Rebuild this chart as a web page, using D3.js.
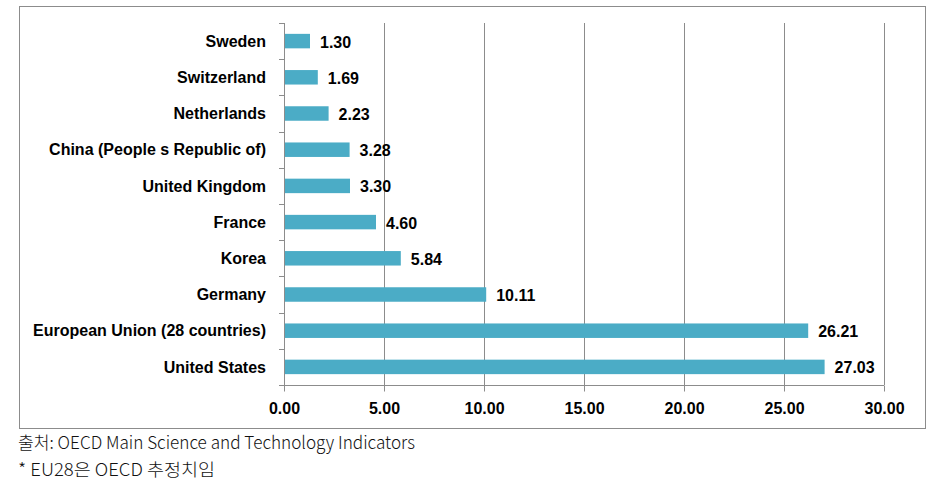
<!DOCTYPE html>
<html><head><meta charset="utf-8">
<script src="https://cdn.jsdelivr.net/npm/d3@7"></script>
<style>
body{margin:0;background:#fff;}
svg{display:block;}
</style></head>
<body>
<script>
const categories = ["Sweden","Switzerland","Netherlands","China (People s Republic of)","United Kingdom","France","Korea","Germany","European Union (28 countries)","United States"];
const values = [1.30,1.69,2.23,3.28,3.30,4.60,5.84,10.11,26.21,27.03];
const xTicks = [0,5,10,15,20,25,30];
const notes = ["출처: OECD Main Science and Technology Indicators","* EU28은 OECD 추정치임"];

const W=937,H=481;
const svg=d3.select("body").append("svg").attr("width",W).attr("height",H);
const pLeft=284,pRight=884,pTop=23,pBottom=385;
const x=d3.scaleLinear().domain([0,30]).range([pLeft,pRight]);
const y=d3.scaleBand().domain(categories).range([pTop,pBottom]).paddingInner(0.6).paddingOuter(0.3);
const yTick=d3.scaleBand().domain(categories).range([pTop,pBottom]);
const labelFont="'Liberation Sans',Arial,sans-serif";

// outer border
svg.append("rect").attr("x",19.5).attr("y",6.5).attr("width",906).attr("height",422)
  .attr("fill","#fff").attr("stroke","#8c8c8c").attr("stroke-width",1);

// gridlines
svg.append("g").selectAll("line").data(xTicks.slice(1)).join("line")
  .attr("x1",d=>Math.round(x(d))+0.5).attr("x2",d=>Math.round(x(d))+0.5)
  .attr("y1",pTop).attr("y2",pBottom)
  .attr("stroke","#8c8c8c").attr("stroke-width",1);

// x axis
const xAxis=d3.axisBottom(x).tickValues(xTicks).tickSize(6).tickFormat(d3.format(".2f"));
const gx=svg.append("g").attr("transform",`translate(0,${pBottom+0.5})`).call(xAxis);
gx.select(".domain").attr("stroke","#8c8c8c").attr("d",`M${pLeft},0H${pRight}`);
gx.selectAll(".tick line").attr("stroke","#8c8c8c");
gx.selectAll(".tick text").attr("dy",0).attr("y",28)
  .attr("font-family",labelFont).attr("font-weight","bold")
  .attr("font-size",16).attr("fill","#000");

// y axis line and ticks
svg.append("line").attr("x1",pLeft+0.5).attr("x2",pLeft+0.5).attr("y1",pTop).attr("y2",pBottom)
  .attr("stroke","#8c8c8c");
const tickYs=categories.map(c=>yTick(c)).concat([pBottom]);
svg.append("g").selectAll("line").data(tickYs).join("line")
  .attr("x1",pLeft-5).attr("x2",pLeft).attr("y1",d=>Math.round(d)+0.5).attr("y2",d=>Math.round(d)+0.5)
  .attr("stroke","#8c8c8c");

// category labels
svg.append("g").selectAll("text").data(categories).join("text")
  .attr("x",266).attr("y",d=>y(d)+y.bandwidth()/2).attr("dy","0.35em")
  .attr("text-anchor","end")
  .attr("font-family",labelFont).attr("font-weight","bold")
  .attr("font-size",16).attr("fill","#000").text(d=>d);

// bars
svg.append("g").selectAll("rect").data(categories).join("rect")
  .attr("x",pLeft+1).attr("y",(d)=>y(d))
  .attr("width",(d,i)=>x(values[i])-pLeft-1).attr("height",y.bandwidth())
  .attr("fill","#4BACC6");

// value labels
svg.append("g").selectAll("text").data(categories).join("text")
  .attr("x",(d,i)=>x(values[i])+10).attr("y",d=>y(d)+y.bandwidth()/2).attr("dy","0.4em")
  .attr("font-family",labelFont).attr("font-weight","bold")
  .attr("font-size",16).attr("fill","#000").text((d,i)=>values[i].toFixed(2));

// footnotes
const noteLens=[397,197];
svg.append("g").selectAll("text").data(notes).join("text")
  .attr("x",18).attr("y",(d,i)=>449+i*27)
  .attr("font-family","'Noto Sans CJK KR',sans-serif").attr("font-weight",300)
  .attr("font-size",17.5).attr("fill","#111")
  .attr("textLength",(d,i)=>noteLens[i]).attr("lengthAdjust","spacingAndGlyphs")
  .text(d=>d);
</script>
</body></html>
